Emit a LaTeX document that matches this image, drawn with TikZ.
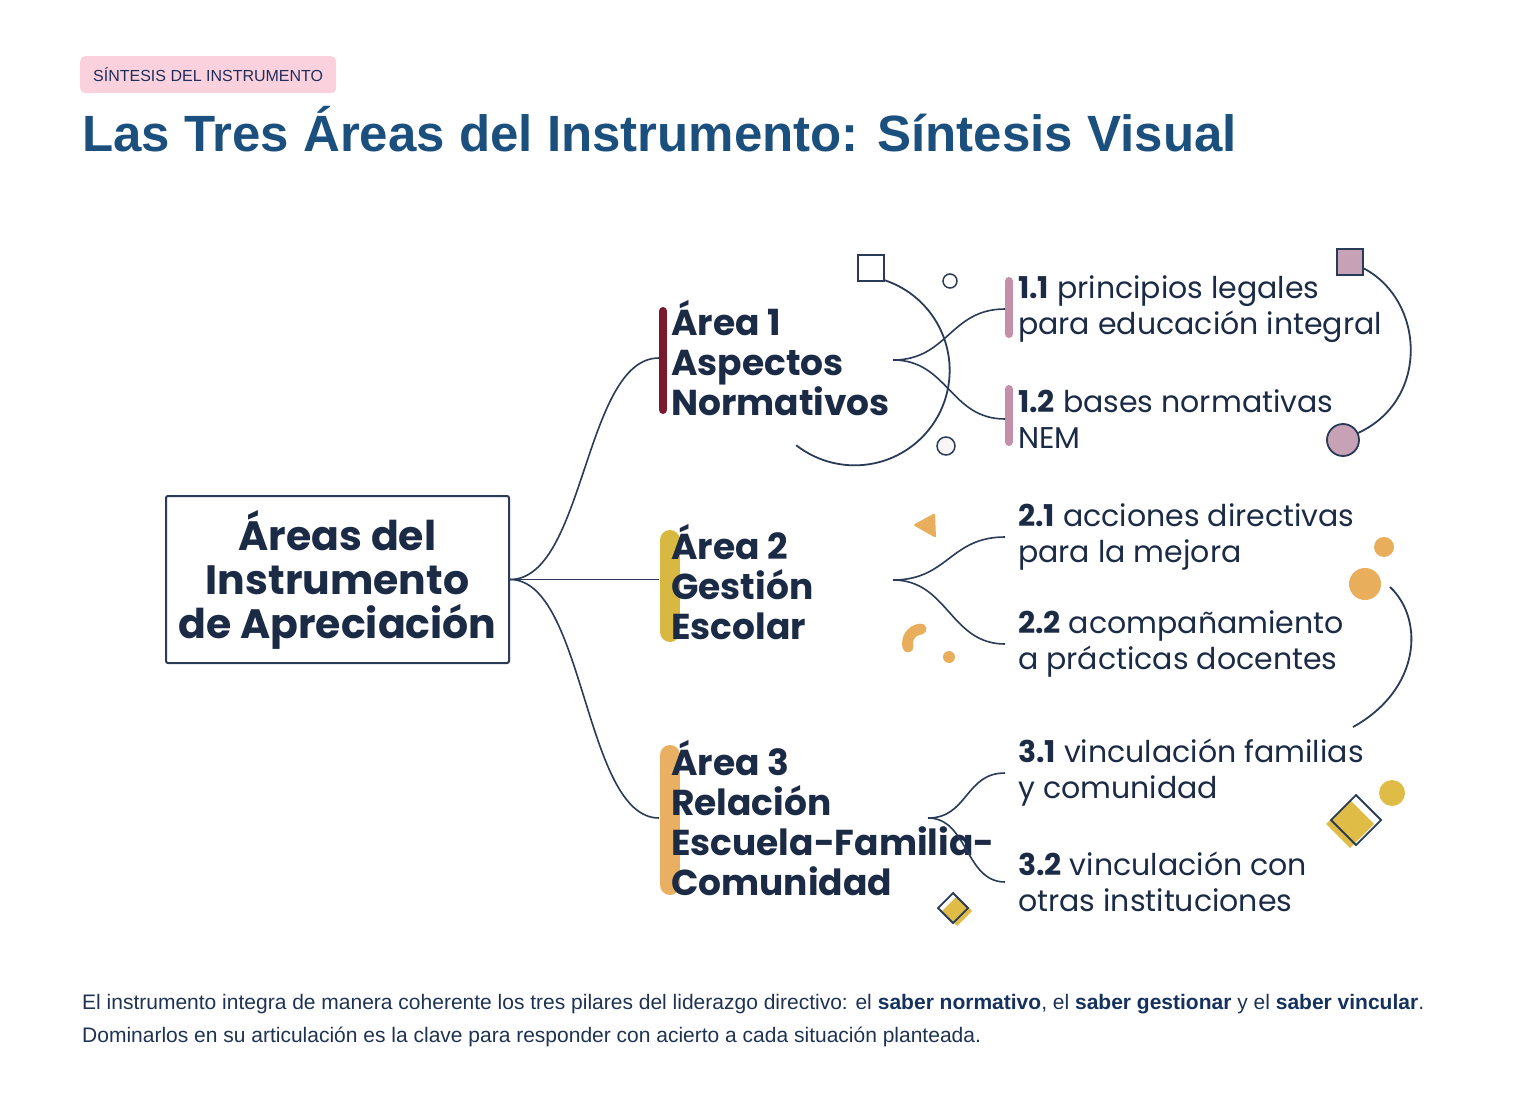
\documentclass[tikz,border=0pt]{standalone}
\usepackage{fontspec}
\setmainfont{Liberation Sans}
\newfontfamily\mont{Poppins}
\usetikzlibrary{calc}
\definecolor{navy}{HTML}{1C2B45}
\definecolor{linec}{HTML}{2A3B58}
\definecolor{titleblue}{HTML}{1A4F7E}
\definecolor{tagpink}{HTML}{FAD1DD}
\definecolor{tagtext}{HTML}{1F2E5A}
\definecolor{areaone}{HTML}{7A1A2C}
\definecolor{areatwo}{HTML}{D9B841}
\definecolor{areathree}{HTML}{E9B063}
\definecolor{mauve}{HTML}{C38FA9}
\definecolor{mauvesq}{HTML}{C7A1B5}
\definecolor{decoorange}{HTML}{E8AE5C}
\definecolor{decoyellow}{HTML}{DFBC45}
\definecolor{foottext}{HTML}{1E3252}
\definecolor{footbold}{HTML}{15325E}
\tikzset{
	rootbox/.style={draw=linec, line width=2pt, rounded corners=2pt, align=center,
		fill=white, inner sep=0pt, minimum width=343pt, minimum height=167pt,
		font=\mont\bfseries\fontsize{41}{44}\selectfont, text=navy},
	areabox/.style={anchor=west, align=left, inner xsep=12pt, inner ysep=0pt,
		font=\mont\bfseries\fontsize{36}{40}\selectfont, text=navy},
	subbox/.style={anchor=west, align=left, inner xsep=13pt, inner ysep=0pt,
		font=\mont\fontsize{30}{36}\selectfont, text=navy},
	branch/.style={draw=linec, line width=1.6pt},
	deco/.style={draw=linec, line width=1.8pt},
	areabar/.style={line cap=round}
}

\begin{document}
\begin{tikzpicture}[x=1pt, y=1pt]
	\useasboundingbox (0,0) rectangle (1538,-1107);
	
	%% -- Header
	\node[fill=tagpink, rounded corners=5pt, anchor=north west, inner xsep=13pt,
	minimum height=37pt, font=\fontsize{16}{18}\selectfont, text=tagtext] (tag)
	at (80,-56) {SÍNTESIS DEL INSTRUMENTO};
	
	\node[anchor=base west, inner sep=0pt, text=titleblue,
	font=\bfseries\fontsize{51}{55}\selectfont] (title)
	at (82,-152) {Las Tres Áreas del Instrumento: Síntesis Visual};
	
	%% -- Colour bars (behind the texts)
	\draw[areabar, areaone, line width=8pt] (663,-311) -- (663,-410);
	\draw[areabar, areatwo, line width=20pt] (670,-540) -- (670,-632);
	\draw[areabar, areathree, line width=20pt] (670,-755) -- (670,-885);
	\draw[areabar, mauve, line width=8pt] (1009,-281) -- (1009,-334);
	\draw[areabar, mauve, line width=8pt] (1009,-389) -- (1009,-442);
	
	%% -- Root
	\node[rootbox] (root) at (337.5,-579.5)
	{Áreas del\\Instrumento\\de Apreciación};
	
	%% -- Areas
	\node[areabox] (a1) at (659,-358) {Área 1\\Aspectos\\Normativos};
	\node[areabox] (a2) at (659,-582) {Área 2\\Gestión\\Escolar};
	\node[areabox] (a3) at (659,-818) {Área 3\\Relación\\Escuela-Familia-\\Comunidad};
	
	%% -- Sub items
	\node[subbox] (s11) at (1005,-309) {\textbf{1.1} principios legales\\para educación integral};
	\node[subbox] (s12) at (1005,-419) {\textbf{1.2} bases normativas\\NEM};
	\node[subbox] (s21) at (1005,-537) {\textbf{2.1} acciones directivas\\para la mejora};
	\node[subbox] (s22) at (1005,-644) {\textbf{2.2} acompañamiento\\a prácticas docentes};
	\node[subbox] (s31) at (1005,-773) {\textbf{3.1} vinculación familias\\y comunidad};
	\node[subbox] (s32) at (1005,-882) {\textbf{3.2} vinculación con\\otras instituciones};
	
	%% -- Fork points
	\coordinate (f1) at (893,-360);
	\coordinate (f2) at (893,-580);
	\coordinate (f3) at (928,-818);
	
	%% -- Branches
	\draw[branch] (root.east) .. controls +(75,0) and +(-75,0) .. (a1.west);
	\draw[branch] (root.east) -- (root.east -| a2.west);
	\draw[branch] (root.east) .. controls +(75,0) and +(-75,0) .. (a3.west);
	
	\draw[branch] (f1) .. controls +(55,0) and +(-55,0) .. (s11.west);
	\draw[branch] (f1) .. controls +(55,0) and +(-55,0) .. (s12.west);
	\draw[branch] (f2) .. controls +(55,0) and +(-55,0) .. (s21.west);
	\draw[branch] (f2) .. controls +(55,0) and +(-55,0) .. (s22.west);
	\draw[branch] (f3) .. controls +(40,0) and +(-40,0) .. (s31.west);
	\draw[branch] (f3) .. controls +(40,0) and +(-40,0) .. (s32.west);
	
	%% -- Decorations, area 1
	\draw[deco, fill=white] (858,-255) rectangle (884,-281);
	\draw[deco] (884,-280) arc[start angle=72, end angle=-128, radius=95];
	\draw[deco, line width=1.5pt, fill=white] (950,-281) circle (7);
	\draw[deco, line width=1.5pt, fill=mauve!10] (946,-446) circle (9);
	\draw[deco, fill=mauvesq] (1337,-249) rectangle (1363,-275);
	\draw[deco] (1363,-268) .. controls (1425,-300) and (1430,-400) .. (1358,-433);
	\draw[deco, fill=mauvesq] (1343,-440) circle (16);
	
	%% -- Decorations, area 2
	\fill[decoorange, rounded corners=2pt] (913,-525) -- (935,-513) -- (936,-538) -- cycle;
	\draw[decoorange, line width=11pt, line cap=round]
	(921,-629) .. controls (911,-630) and (906,-639) .. (908,-647);
	\fill[decoorange] (949,-657) circle (6);
	\fill[decoorange] (1384,-547) circle (10);
	\fill[decoorange] (1365,-584) circle (16);
	\draw[deco] (1390,-587) .. controls (1425,-620) and (1420,-690) .. (1353,-727);
	
	%% -- Decorations, area 3
	\fill[decoyellow] (1392,-793) circle (13);
	\fill[decoyellow] (1326,-824) -- (1350,-800) -- (1374,-824) -- (1350,-848) -- cycle;
	\draw[deco] (1331,-820) -- (1356,-795) -- (1381,-820) -- (1356,-845) -- cycle;
	\fill[decoyellow] (942,-911) -- (957,-896) -- (972,-911) -- (957,-926) -- cycle;
	\draw[deco] (938,-908) -- (953,-893) -- (968,-908) -- (953,-923) -- cycle;
	
	%% -- Footer
	\node[anchor=base west, align=left, inner sep=0pt, text=foottext,
	font=\fontsize{21}{33}\selectfont] (foot) at (82,-1042)
	{El instrumento integra de manera coherente los tres pilares del liderazgo directivo: el \textbf{\textcolor{footbold}{saber normativo}}, el \textbf{\textcolor{footbold}{saber gestionar}} y el \textbf{\textcolor{footbold}{saber vincular}}.\\
		Dominarlos en su articulación es la clave para responder con acierto a cada situación planteada.};
	
\end{tikzpicture}
\end{document}
